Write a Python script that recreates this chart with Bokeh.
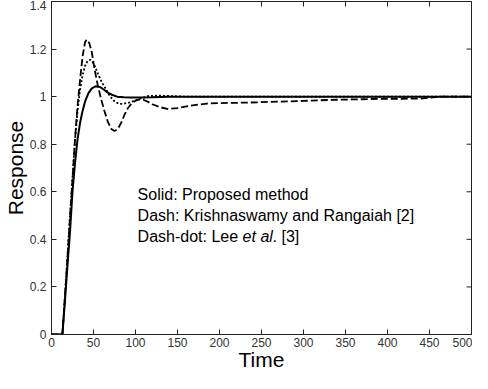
from bokeh.plotting import figure
from bokeh.models import Range1d, FixedTicker, CustomJSTickFormatter, Label
from bokeh.embed import file_html
from bokeh.resources import INLINE

# ---- data ----
x_ticks = [0, 50, 100, 150, 200, 250, 300, 350, 400, 450, 500]
y_ticks = [0, 0.2, 0.4, 0.6, 0.8, 1.0, 1.2, 1.4]

t_solid = [0, 12, 13, 16, 19, 22, 25, 28, 31, 34, 37, 40, 44, 48, 53, 58, 63, 67, 72, 78,
           86.5, 95, 105, 120, 140, 200, 300, 400, 500]
y_solid = [0, 0, 0, 0.14, 0.29, 0.43, 0.6, 0.72, 0.82, 0.89, 0.94, 0.98, 1.015, 1.035, 1.044,
           1.04, 1.028, 1.017, 1.008, 1.0, 0.997, 0.996, 0.996, 0.997, 1.0, 1.0, 1.0, 1.0, 1.0]

t_dash = [0, 12, 13, 16, 19, 22, 25, 28, 31, 34, 37, 40, 42, 45, 48, 51, 55, 59, 63, 67, 71,
          75, 79, 83, 87, 91, 95, 100, 105, 110, 115, 120, 130, 139, 150, 165, 185, 200, 220,
          245, 260, 300, 330, 380, 440, 462, 500]
y_dash = [0, 0, 0, 0.16, 0.32, 0.49, 0.65, 0.82, 0.96, 1.07, 1.17, 1.23, 1.24, 1.225, 1.186,
          1.12, 1.05, 0.99, 0.94, 0.895, 0.865, 0.855, 0.865, 0.89, 0.925, 0.952, 0.97, 0.983,
          0.988, 0.986, 0.978, 0.968, 0.955, 0.948, 0.952, 0.962, 0.971, 0.973, 0.974, 0.976,
          0.978, 0.982, 0.986, 0.99, 0.992, 1.0, 1.0]

t_dot = [0, 12, 13, 16, 19, 22, 25, 28, 31, 34, 37, 40, 43, 46, 49, 52, 56, 60, 65, 70, 75,
         80, 85, 90, 95, 100, 108, 116, 130, 145, 160, 200, 300, 400, 500]
y_dot = [0, 0, 0, 0.16, 0.33, 0.5, 0.66, 0.82, 0.94, 1.03, 1.09, 1.13, 1.15, 1.155, 1.145,
         1.125, 1.09, 1.06, 1.03, 1.0, 0.98, 0.97, 0.97, 0.973, 0.978, 0.984, 0.995, 1.003,
         1.004, 1.002, 1.0, 1.0, 1.0, 1.0, 1.0]

FONT = "Liberation Sans"
AX = "#222222"

p = figure(width=472, height=373,
           x_range=Range1d(0, 500), y_range=Range1d(0, 1.4),
           output_backend="svg", toolbar_location=None,
           min_border_left=45, min_border_right=1, min_border_top=1, min_border_bottom=0,
           x_axis_label="Time", y_axis_label="Response")
p.xgrid.visible = False
p.ygrid.visible = False
p.outline_line_color = AX
p.outline_line_width = 1
p.background_fill_color = "white"
p.border_fill_color = "white"

fmt = CustomJSTickFormatter(code="return Number(tick.toFixed(1)).toString();")

for ax in (p.xaxis[0], p.yaxis[0]):
    ax.major_tick_in = 5
    ax.major_tick_out = 0
    ax.minor_tick_in = 0
    ax.minor_tick_out = 0
    ax.axis_line_color = AX
    ax.major_tick_line_color = AX
    ax.major_label_text_font = FONT
    ax.major_label_text_font_size = "12px"
    ax.major_label_text_color = "#333333"
    ax.axis_label_text_font = FONT
    ax.axis_label_text_font_size = "21px"
    ax.axis_label_text_font_style = "normal"
    ax.axis_label_text_color = "black"
    ax.formatter = fmt

p.xaxis[0].ticker = FixedTicker(ticks=x_ticks)
p.yaxis[0].ticker = FixedTicker(ticks=y_ticks)
p.xaxis[0].major_label_standoff = 3
p.xaxis[0].axis_label_standoff = -2
p.yaxis[0].major_label_standoff = 5
p.yaxis[0].axis_label_standoff = 0

# inward ticks on the top and right edges of the box (half of each dash is clipped away)
p.scatter(x_ticks, [1.4] * len(x_ticks), marker="dash", angle=1.5708, size=10,
          line_color=AX, line_width=1)
p.scatter([500] * len(y_ticks), y_ticks, marker="dash", size=10, line_color=AX, line_width=1)

p.line(t_dash, y_dash, line_color="black", line_width=1.8, line_dash="7 3")
p.line(t_dot, y_dot, line_color="black", line_width=1.8, line_dash="2 2")
p.line(t_solid, y_solid, line_color="black", line_width=2)

ann = dict(text_font=FONT, text_font_size="16px", text_color="black", text_baseline="alphabetic")
p.add_layout(Label(x=102.5, y=0.59, text="Solid: Proposed method", **ann))
p.add_layout(Label(x=102.5, y=0.5, text="Dash: Krishnaswamy and Rangaiah [2]", **ann))
p.add_layout(Label(x=102.5, y=0.41, text="Dash-dot: Lee ", **ann))
p.add_layout(Label(x=102.5, y=0.41, x_offset=105, text="et al", text_font_style="italic", **ann))
p.add_layout(Label(x=102.5, y=0.41, x_offset=135, text=". [3]", **ann))

open("out.html", "w").write(file_html(p, INLINE))
